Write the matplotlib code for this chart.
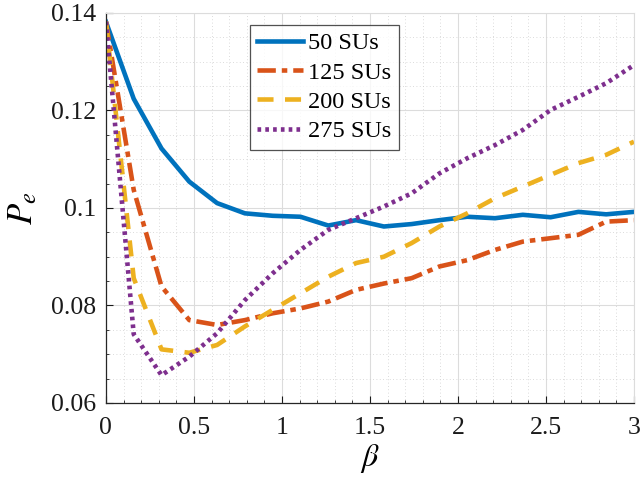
import numpy as np
import matplotlib
matplotlib.use('Agg')
import matplotlib.pyplot as plt
from matplotlib.ticker import MultipleLocator

beta = np.linspace(0, 3, 20)

pe_50 = [0.1382, 0.1224, 0.1122, 0.1054, 0.1010, 0.0989, 0.0984, 0.0982, 0.0964, 0.0975,
         0.0962, 0.0967, 0.0975, 0.0982, 0.0979, 0.0986, 0.0981, 0.0992, 0.0987, 0.0992]
pe_125 = [0.1382, 0.1037, 0.0839, 0.0770, 0.0760, 0.0770, 0.0784, 0.0794, 0.0808, 0.0832,
          0.0845, 0.0856, 0.0880, 0.0893, 0.0914, 0.0931, 0.0938, 0.0945, 0.0972, 0.0975]
pe_200 = [0.1382, 0.0856, 0.0710, 0.0703, 0.0719, 0.0757, 0.0791, 0.0825, 0.0859, 0.0887,
          0.0900, 0.0928, 0.0962, 0.0989, 0.1020, 0.1044, 0.1068, 0.1092, 0.1109, 0.1136]
pe_275 = [0.1382, 0.0741, 0.0657, 0.0695, 0.0743, 0.0811, 0.0866, 0.0914, 0.0955, 0.0979,
          0.1003, 0.1030, 0.1071, 0.1102, 0.1129, 0.1160, 0.1201, 0.1228, 0.1256, 0.1293]
labels = ['50 SUs', '125 SUs', '200 SUs', '275 SUs']

plt.rcParams['font.family'] = ['Liberation Serif', 'DejaVu Serif']
plt.rcParams['mathtext.fontset'] = 'stix'

fig = plt.figure(figsize=(6.42, 4.79), dpi=100)
ax = fig.add_axes([0.165, 0.1587, 0.8225, 0.8142])

ax.plot(beta, pe_50, color='#0072BD', lw=3.3, ls='-', label=labels[0])
ax.plot(beta, pe_125, color='#D95319', lw=3.3, ls=(0, (4, 1.3, 1.2, 1.3)), label=labels[1])
ax.plot(beta, pe_200, color='#EDB120', lw=3.3, ls=(0, (3.5, 2.5)), label=labels[2])
ax.plot(beta, pe_275, color='#7E2F8E', lw=3.3, ls=(0, (0.8, 0.9)), label=labels[3])

ax.set_xlim(0, 3)
ax.set_ylim(0.06, 0.14)
ax.set_xticks([0, 0.5, 1, 1.5, 2, 2.5, 3])
ax.set_xticklabels(['0', '0.5', '1', '1.5', '2', '2.5', '3'])
ax.set_yticks([0.06, 0.08, 0.1, 0.12, 0.14])
ax.set_yticklabels(['0.06', '0.08', '0.1', '0.12', '0.14'])
ax.xaxis.set_minor_locator(MultipleLocator(0.1))
ax.yaxis.set_minor_locator(MultipleLocator(0.005))

ax.grid(True, which='major', color='#dcdcdc', lw=0.8, ls='-')
ax.grid(True, which='minor', color='#cfcfcf', lw=0.6, ls=(0, (1, 3)))
ax.set_axisbelow(True)

ax.tick_params(which='both', direction='in', top=False, right=False, labelsize=18.5, colors='#1a1a1a')
ax.tick_params(which='major', length=5, width=0.8)
ax.tick_params(which='minor', length=2.5, width=0.6)
ax.tick_params(axis='x', pad=10)
ax.tick_params(axis='y', pad=7)
for s in ['left', 'bottom']:
    ax.spines[s].set_color('#262626')
    ax.spines[s].set_linewidth(0.9)
for s in ['top', 'right']:
    ax.spines[s].set_color('#dcdcdc')
    ax.spines[s].set_linewidth(0.8)

ax.set_xlabel(r'$\beta$', fontsize=23, labelpad=2)
ax.set_ylabel(r'$P_e$', fontsize=25, labelpad=8)

leg = ax.legend(loc='upper left', bbox_to_anchor=(0.2727, 0.969), borderaxespad=0,
                fontsize=17.5, frameon=True, fancybox=False, handlelength=1.9,
                handletextpad=0.2, borderpad=0.3, labelspacing=0.3)
leg.get_frame().set_edgecolor('#262626')
leg.get_frame().set_linewidth(0.9)

fig.savefig('out.png', dpi=100)
